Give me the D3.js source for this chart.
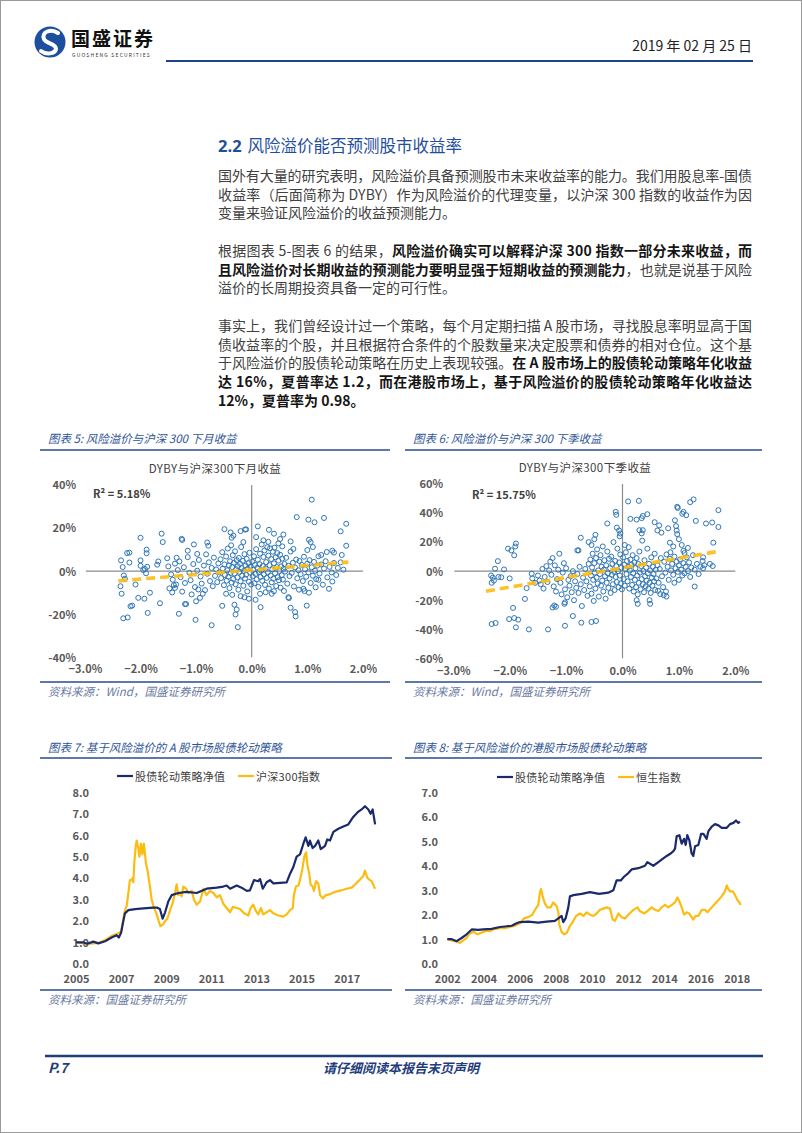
<!DOCTYPE html>
<html><head><meta charset="utf-8">
<script src="https://cdn.jsdelivr.net/npm/d3@7"></script>
<style>
body{margin:0;background:#fff;}
svg{display:block;}
text{font-family:"Noto Sans CJK SC","Noto Sans",sans-serif;}
</style></head><body>
<svg id="page" width="802" height="1133"></svg>
<script>
// ---------- DATA ----------
const reportDate = "2019 年 02 月 25 日";
const sectionTitle = ["2.2", "风险溢价能否预测股市收益率"];
const para1 = [
  [["国外有大量的研究表明，风险溢价具备预测股市未来收益率的能力。我们用股息率-国债",0]],
  [["收益率（后面简称为 DYBY）作为风险溢价的代理变量，以沪深 300 指数的收益作为因",0]],
  [["变量来验证风险溢价的收益预测能力。",0]]
];
const para2 = [
  [["根据图表 5-图表 6 的结果，",0],["风险溢价确实可以解释沪深 300 指数一部分未来收益，而",1]],
  [["且风险溢价对长期收益的预测能力要明显强于短期收益的预测能力",1],["，也就是说基于风险",0]],
  [["溢价的长周期投资具备一定的可行性。",0]]
];
const para3 = [
  [["事实上，我们曾经设计过一个策略，每个月定期扫描 A 股市场，寻找股息率明显高于国",0]],
  [["债收益率的个股，并且根据符合条件的个股数量来决定股票和债券的相对仓位。这个基",0]],
  [["于风险溢价的股债轮动策略在历史上表现较强。",0],["在 A 股市场上的股债轮动策略年化收益",1]],
  [["达 16%，夏普率达 1.2，而在港股市场上，基于风险溢价的股债轮动策略年化收益达",1]],
  [["12%，夏普率为 0.98。",1]]
];
const fig5Title = "图表 5:  风险溢价与沪深 300 下月收益";
const fig6Title = "图表 6:  风险溢价与沪深 300 下季收益";
const fig7Title = "图表 7:  基于风险溢价的 A 股市场股债轮动策略";
const fig8Title = "图表 8:  基于风险溢价的港股市场股债轮动策略";
const sourceWind = "资料来源：Wind，国盛证券研究所";
const sourceGS = "资料来源：国盛证券研究所";
const chart5Name = "DYBY与沪深300下月收益";
const chart6Name = "DYBY与沪深300下季收益";
const r2Month = "R² = 5.18%";
const r2Quarter = "R² = 15.75%";
const scatterXTicks = [-3, -2, -1, 0, 1, 2];
const monthYTicks = [-40, -20, 0, 20, 40];
const quarterYTicks = [-60, -40, -20, 0, 20, 40, 60];
const monthTrend = [[-2.40, -4.5], [1.74, 4.2]];
const quarterTrend = [[-2.42, -13.8], [1.73, 13.8]];

// DYBY (%) vs next-month CSI300 return (%)
const monthPoints = [
[-2.0,15.5],[-1.62,17.4],[-1.6,13.5],[-1.26,15],[-1.25,14.5],[-1.04,12.4],[-0.8,13.3],[-0.78,11.8],[-0.49,19.5],[-0.38,18],[-0.36,15.5],[-0.33,16.5],[-0.2,18.6],[-0.12,19.3],[-2.24,8.4],[-2.2,8.6],[-2.35,5],[-1.89,10],[-1.89,8.3],[-2.0,5],[-2.2,4],[-1.68,4.5],[-1.7,3],[-1.35,6.2],[-1.38,3.5],[-2.32,1.9],[-2.3,-2],[-2.28,-3.5],[-2.36,-7],[-2.34,-10.5],[-2.04,-12.4],[-1.93,-12.8],[-2.18,-16.3],[-2.15,-16],[-2.31,-21.9],[-2.23,-21.5],[-1.87,-19.4],[-1.83,-10],[-1.65,-14.9],[-2.09,-6.2],[-1.9,-1],[-1.92,1],[-1.88,2],[-2.0,2.5],[-1.95,0.5],[-1.43,-9.9],[-1.36,-6.2],[-1.4,-6.5],[-1.31,-19.8],[-1.2,-15.3],[-1.18,-15.3],[-1.01,-22.6],[-0.72,-25.1],[-1.0,-14],[-0.93,-12.4],[-0.88,-10.5],[-0.53,-16.1],[-0.31,-15.6],[-0.27,-17.8],[-0.29,-20.1],[-0.25,-26],[-0.46,-10.5],[-0.13,-12.1],
[1.08,33.2],[0.81,25.1],[1.3,24.7],[1.02,23.9],[1.13,22.7],[1.7,22],[1.6,18.5],[0.11,20.8],[0.31,19.2],[0.4,17.4],[0.57,17],[0.51,14.9],[0.7,13.8],[1.03,14.6],[1.06,13.5],[1.7,11.8],[0.21,14.3],[0.08,15.8],[-0.1,19.4],[1.45,9.5],[1.48,8.6],[1.62,7.5],[1.0,9.8],[1.25,7.5],[0.99,-16],[0.7,-17],[0.78,-19],[0.79,-21],[0.66,-12.1],[0.67,-12.5],[0.36,-10.5],[0.16,-16.7],[0.07,-13.3],[1.39,-8.2],[1.03,-10],[0.93,-8.2],[1.2,-4],
[-1.5,2.2],[-1.45,-1.5],[-1.42,-4],[-1.33,0.5],[-1.3,4.5],[-1.28,-2.8],[-1.22,1.8],[-1.2,-5.5],[-1.15,6.5],[-1.12,-0.8],[-1.1,-4.2],[-1.05,3.3],[-1.02,-7.4],[-0.98,0.2],[-0.95,5.2],[-0.92,-2.5],[-0.9,-5.8],[-0.86,2.6],[-0.84,-8.8],[-0.8,-1.2],[-0.77,4.1],[-0.75,-4.6],[-0.72,1.5],[-0.7,-7],[-0.68,6.3],[-0.66,-2.2],[-0.64,0.8],[-0.62,-5.1],[-0.6,3.6],[-1.38,-7.8],[-1.25,-9.5],[-1.08,-10.8],[-0.96,-8.5],[-0.82,7.8],[-1.15,9.5],[-0.98,8],[-1.52,6],[-1.48,-8],
[-0.58,-0.5],[-0.56,5.5],[-0.55,-3.2],[-0.53,8.8],[-0.52,1.2],[-0.5,-6.5],[-0.49,3.1],[-0.48,-1.8],[-0.46,6.8],[-0.45,-4.4],[-0.44,0.4],[-0.43,10.5],[-0.42,-2.6],[-0.41,2.7],[-0.4,-7.9],[-0.39,4.6],[-0.38,-0.9],[-0.37,12],[-0.36,-5.3],[-0.35,1.9],[-0.34,7.4],[-0.33,-3.6],[-0.32,3.9],[-0.31,-1.1],[-0.3,9.2],[-0.29,-6.1],[-0.28,0.9],[-0.27,5.1],[-0.26,-2.9],[-0.25,2.3],[-0.24,-8.6],[-0.23,6.1],[-0.22,-0.3],[-0.21,3.4],[-0.2,-4.7],[-0.19,11.2],[-0.18,1.4],[-0.17,-2.1],[-0.16,4.8],[-0.15,-6.8],[-0.14,0.1],[-0.13,7.9],[-0.12,-3.4],[-0.11,2.6],[-0.1,-1.6],[-0.09,5.7],[-0.08,-9.4],[-0.07,1.1],[-0.06,3.7],[-0.05,-4.9],[-0.04,8.5],[-0.03,-0.7],[-0.02,2.1],[-0.01,-6.2],[-0.35,-11],[-0.2,-11.6],[-0.05,-12.8],[-0.15,13.5],
[0.01,4.4],[0.02,-2.4],[0.03,0.6],[0.04,6.9],[0.05,-5.6],[0.06,2.9],[0.07,-1.3],[0.08,10.2],[0.09,-3.8],[0.1,1.6],[0.11,5.3],[0.12,-7.3],[0.13,-0.4],[0.14,3.2],[0.15,8.1],[0.16,-2.7],[0.17,0.3],[0.18,12.4],[0.19,-4.5],[0.2,2.4],[0.21,6.6],[0.22,-1.5],[0.23,9.6],[0.24,-6.4],[0.25,1.3],[0.26,4.2],[0.27,-3.1],[0.28,11.1],[0.29,-0.6],[0.3,7.2],[0.31,-8.1],[0.32,2.8],[0.33,10.6],[0.34,-2],[0.35,5.6],[0.36,-5.2],[0.37,0.8],[0.38,9],[0.39,-3.5],[0.4,3.6],[0.41,10.9],[0.42,-1],[0.43,6.4],[0.44,-6.9],[0.45,1.9],[0.46,8.4],[0.47,-2.8],[0.48,4.9],[0.49,-4.2],[0.5,0.1],[0.51,7.6],[0.52,-7.7],[0.53,2.2],[0.54,-1.9],[0.55,5.8],[0.56,-3.9],[0.57,1],[0.58,-9.2],[0.59,3.3],[0.6,-0.2],[0.25,-9.8],[0.4,-9.3],[0.15,-10.5],[0.48,12.9],[0.55,11.5],[0.3,13.6],
[0.62,6.2],[0.64,-5.8],[0.66,2.5],[0.68,-2.3],[0.7,9.1],[0.72,-0.8],[0.74,3.9],[0.76,-7.1],[0.78,1.7],[0.8,5.4],[0.82,-3.3],[0.84,0.4],[0.86,4.7],[0.88,-1.4],[0.9,2.9],[0.92,-4.6],[0.94,6.7],[0.96,0.9],[0.98,-2.6],[1.0,3.5],[1.02,-0.5],[1.04,5.1],[1.06,-5.5],[1.08,1.8],[1.1,-2.1],[1.12,4.3],[1.14,0.2],[1.16,-3.7],[1.18,2.6],[1.2,6.9],[1.22,-1.1],[1.25,3.1],[1.28,-6.3],[1.3,1.2],[1.33,4.6],[1.36,-2.9],[1.4,2],[1.44,-0.6],[1.48,3.8],[1.52,-1.8],[1.55,1.5],[1.6,4.1],[1.65,0.7],[0.85,-8.6],[0.95,-9.2],[1.15,-7.5],[1.45,-4.8],[0.75,10.3],[1.1,11.2],[1.35,8.9]
];

// DYBY (%) vs next-quarter CSI300 return (%)
const quarterPoints = [
[-0.12,40.8],[-0.11,38.8],[-0.27,32.8],[-0.1,30],[-0.06,28],[-2.03,15.5],[-1.97,14.3],[-1.89,19],[-1.9,17],[-1.92,10.9],[-2.21,6.9],[-2.26,1.7],[-2.1,1.2],[-2.33,-3],[-2.3,-4.5],[-2.28,-6.5],[-2.32,-8],[-2.2,-4],[-2.15,-4.2],[-2.0,-5],[-1.94,-25.3],[-1.73,-19.1],[-2.01,-33],[-1.92,-32.3],[-1.85,-33.4],[-2.32,-36.4],[-2.25,-35.7],[-1.89,-38.7],[-1.66,-40.1],[-1.32,-40.1],[-1.02,-37.6],[-0.88,-30.9],[-0.73,-35.5],[-0.55,-35],[-0.47,-34.3],[-1.61,-1.8],[-1.7,-11.7],[-1.21,-23.7],[-1.18,-24.5],[-1.24,-25],[-1.02,-21.5],[-1.03,-22.5],[-0.8,14.3],[-0.78,14.3],[-0.74,23],[-0.6,20],[-0.5,22],[-0.48,25],[-0.55,18],
[0.1,48],[0.29,48.4],[1.26,49.4],[1.2,47.5],[0.97,44.3],[0.98,43.5],[1.7,42],[1.08,40.8],[1.13,38.5],[1.06,39.5],[0.44,39.2],[0.36,38],[0.34,36.5],[0.14,36],[0.25,35.5],[1.3,34.6],[1.48,32.8],[1.59,33.5],[1.7,30.4],[0.57,33.7],[0.65,31.5],[0.62,28],[0.69,26.5],[0.81,29.5],[0.93,35],[0.95,31],[0.96,28],[0.97,25.5],[1.0,22],[-0.04,25.9],[-0.05,24],[0.04,18],[0.3,28.2],[0.36,28.2],[0.34,26],[1.61,19.6],[0.84,19.6],[0.9,17],[1.05,18],[1.16,16],[1.08,14],[1.28,-10.6],[0.77,-14],[0.78,-17.5],[0.73,-16.5],[0.67,-15.8],[0.63,-13.5],[0.49,-22.5],[0.48,-20],[0.27,-22.5],[0.25,-20],[1.43,2],[1.45,4],[1.42,7],[1.43,9.5],[1.55,5],[1.6,3.5],
[-1.5,-3],[-1.47,-6.5],[-1.45,-9],[-1.42,1.5],[-1.4,-12],[-1.38,-4],[-1.35,3.5],[-1.33,-7.5],[-1.3,0.5],[-1.28,6.5],[-1.26,-2.5],[-1.24,9],[-1.22,-10.5],[-1.2,4],[-1.18,-14],[-1.16,-5.5],[-1.14,1],[-1.12,12],[-1.1,-8],[-1.08,-16],[-1.06,-1],[-1.04,5.5],[-1.02,-12.5],[-1.0,2],[-0.98,-18],[-0.96,-6],[-0.94,-10],[-0.92,-3.5],[-0.9,-14.5],[-0.88,0],[-0.86,-20],[-0.84,-7],[-0.82,-11.5],[-0.8,-2],[-0.78,-15],[-0.76,3],[-0.74,-9],[-0.72,-24],[-0.7,-4.5],[-0.68,-13],[-0.66,1.5],[-0.64,-7],[-0.62,-17],[-0.6,5],[-1.55,-8],[-1.6,-5],
[-0.58,-10.5],[-0.57,8],[-0.56,-3],[-0.55,-15.5],[-0.54,2.5],[-0.53,12],[-0.52,-6],[-0.51,-20.5],[-0.5,5.5],[-0.49,-1],[-0.48,-12],[-0.47,9],[-0.46,-4.5],[-0.45,15],[-0.44,-8.5],[-0.43,0.5],[-0.42,-17.5],[-0.41,6.5],[-0.4,-2],[-0.39,11],[-0.38,-10],[-0.37,3],[-0.36,-6.5],[-0.35,17],[-0.34,-14],[-0.33,1],[-0.32,7.5],[-0.31,-3.5],[-0.3,-19],[-0.29,4],[-0.28,-8],[-0.27,13.5],[-0.26,-1.5],[-0.25,-11.5],[-0.24,8.5],[-0.23,-5],[-0.22,2],[-0.21,-15],[-0.2,10],[-0.19,-2.5],[-0.18,5],[-0.17,-9],[-0.16,20],[-0.15,-0.5],[-0.14,-13],[-0.13,7],[-0.12,-4],[-0.11,3.5],[-0.1,-7.5],[-0.09,15.5],[-0.08,0],[-0.07,-11],[-0.06,6],[-0.05,-3],[-0.04,11.5],[-0.03,-8.5],[-0.02,2.5],[-0.01,-12.5],
[0.01,9.5],[0.02,-5.5],[0.03,4.5],[0.04,-10],[0.05,1.5],[0.06,13],[0.07,-2],[0.08,7],[0.09,-7],[0.1,3],[0.11,16.5],[0.12,-12],[0.13,0.5],[0.14,8],[0.15,-4],[0.16,4.5],[0.17,-9.5],[0.18,11],[0.19,-1.5],[0.2,-14],[0.21,6],[0.22,-6],[0.23,2],[0.24,-11],[0.25,9],[0.26,-3],[0.27,-16],[0.28,5],[0.29,-8],[0.3,13.5],[0.31,-1],[0.32,-12.5],[0.33,3.5],[0.34,-5.5],[0.35,21],[0.36,-9],[0.37,0],[0.38,-14.5],[0.39,7.5],[0.4,-3.5],[0.41,-10.5],[0.42,2.5],[0.43,-6.5],[0.44,15.5],[0.45,-1.5],[0.46,-12],[0.47,5],[0.48,-8],[0.49,0.5],[0.5,-15],[0.51,9.5],[0.52,-4.5],[0.53,-10],[0.54,3],[0.55,-2],[0.56,-7],[0.57,12],[0.58,-13],[0.59,1],[0.6,-5],
[0.62,4],[0.64,-8],[0.66,1.5],[0.68,9],[0.7,-3.5],[0.72,-11],[0.74,6.5],[0.76,-1],[0.78,11.5],[0.8,3],[0.82,-6],[0.84,8.5],[0.86,0.5],[0.88,5],[0.9,-2.5],[0.92,10],[0.94,2],[0.96,6.5],[0.98,-0.5],[1.0,4],[1.02,8],[1.04,1],[1.06,-3],[1.08,5.5],[1.1,-1.5],[1.12,3],[1.14,9.5],[1.16,0],[1.18,6],[1.2,-4],[1.22,2.5],[1.25,11],[1.28,1],[1.32,5],[1.35,-2],[1.38,3],[1.0,-6],[0.92,-8],[1.1,12.5],[0.85,13]
];

// Fig 7: A-share strategy vs CSI300 (net value)
const aYearTicks = [2005, 2007, 2009, 2011, 2013, 2015, 2017];
const aValueTicks = [0, 1, 2, 3, 4, 5, 6, 7, 8];
const aLegend = ["股债轮动策略净值", "沪深300指数"];
const aStrategy = [[2005.0,1.0],[2005.3,1.0],[2005.5,0.93],[2005.77,1.03],[2005.99,0.95],[2006.29,1.05],[2006.58,1.22],[2006.8,1.33],[2006.9,1.22],[2007.0,1.45],[2007.1,2.0],[2007.17,2.35],[2007.32,2.5],[2007.62,2.55],[2007.99,2.58],[2008.43,2.62],[2008.58,2.62],[2008.72,2.55],[2008.84,2.1],[2008.95,2.4],[2009.09,2.9],[2009.24,3.2],[2009.54,3.3],[2009.91,3.35],[2010.35,3.3],[2010.79,3.5],[2011.24,3.55],[2011.53,3.6],[2011.68,3.65],[2011.83,3.5],[2012.12,3.65],[2012.34,3.55],[2012.57,3.4],[2012.71,3.42],[2012.89,3.9],[2013.08,3.85],[2013.16,3.95],[2013.28,3.5],[2013.45,3.8],[2013.6,3.9],[2013.75,3.75],[2014.34,3.8],[2014.49,4.2],[2014.63,4.5],[2014.78,5.0],[2014.93,5.1],[2015.08,5.6],[2015.18,5.9],[2015.3,5.5],[2015.37,5.75],[2015.49,5.4],[2015.6,5.5],[2015.74,5.75],[2015.85,5.35],[2016.04,5.5],[2016.14,5.8],[2016.26,5.75],[2016.41,6.15],[2016.63,6.3],[2016.85,6.4],[2017.07,6.5],[2017.29,6.85],[2017.52,7.1],[2017.66,7.2],[2017.81,7.35],[2017.96,7.2],[2018.06,7.0],[2018.15,7.2],[2018.26,6.5]];
const aIndex = [[2005.0,1.0],[2005.5,0.92],[2005.77,0.95],[2005.99,0.97],[2006.29,1.1],[2006.58,1.3],[2006.8,1.38],[2007.0,1.5],[2007.1,2.1],[2007.17,2.5],[2007.25,2.7],[2007.32,3.3],[2007.39,3.9],[2007.47,3.9],[2007.51,4.0],[2007.54,3.8],[2007.59,4.8],[2007.65,5.5],[2007.69,5.75],[2007.76,5.4],[2007.81,5.0],[2007.88,5.6],[2007.94,5.1],[2008.01,5.6],[2008.1,4.7],[2008.18,4.3],[2008.28,3.6],[2008.35,3.0],[2008.46,2.6],[2008.58,2.3],[2008.69,1.9],[2008.75,1.75],[2008.87,1.85],[2008.96,2.0],[2009.05,2.1],[2009.17,2.5],[2009.29,2.85],[2009.39,3.3],[2009.46,3.7],[2009.54,3.2],[2009.61,3.3],[2009.68,3.15],[2009.76,3.6],[2009.88,3.5],[2009.98,3.3],[2010.13,3.4],[2010.23,3.0],[2010.35,2.75],[2010.5,2.9],[2010.65,3.5],[2010.79,3.2],[2010.94,3.4],[2011.09,3.3],[2011.24,3.1],[2011.38,3.2],[2011.53,2.8],[2011.68,2.6],[2011.83,2.4],[2011.95,2.65],[2012.12,2.6],[2012.27,2.55],[2012.45,2.35],[2012.64,2.25],[2012.74,2.6],[2012.86,2.75],[2012.98,2.45],[2013.08,2.3],[2013.2,2.6],[2013.3,2.3],[2013.45,2.4],[2013.6,2.5],[2013.75,2.35],[2013.97,2.25],[2014.19,2.2],[2014.34,2.3],[2014.49,2.5],[2014.61,2.6],[2014.66,3.2],[2014.75,3.6],[2014.86,3.65],[2014.93,3.9],[2015.03,4.4],[2015.12,5.0],[2015.2,5.2],[2015.26,4.6],[2015.34,4.2],[2015.4,3.7],[2015.49,3.6],[2015.55,3.4],[2015.64,3.85],[2015.74,3.75],[2015.82,3.2],[2015.94,3.05],[2016.08,3.2],[2016.26,3.25],[2016.48,3.35],[2016.67,3.4],[2016.85,3.45],[2017.0,3.5],[2017.22,3.55],[2017.37,3.7],[2017.56,3.9],[2017.74,4.1],[2017.81,4.35],[2017.92,4.0],[2018.03,3.9],[2018.11,3.85],[2018.21,3.6],[2018.26,3.5]];

// Fig 8: HK strategy vs Hang Seng (net value)
const hkYearTicks = [2002, 2004, 2006, 2008, 2010, 2012, 2014, 2016, 2018];
const hkValueTicks = [0, 1, 2, 3, 4, 5, 6, 7];
const hkLegend = ["股债轮动策略净值", "恒生指数"];
const hkStrategy = [[2002.0,1.0],[2002.25,1.0],[2002.52,0.92],[2002.79,1.05],[2003.07,1.2],[2003.35,1.4],[2003.71,1.38],[2003.99,1.4],[2004.45,1.42],[2004.91,1.5],[2005.19,1.52],[2005.56,1.55],[2005.83,1.65],[2006.02,1.7],[2006.48,1.72],[2007.03,1.68],[2007.49,1.72],[2007.95,1.75],[2008.14,1.85],[2008.32,1.95],[2008.41,1.7],[2008.54,1.85],[2008.69,2.3],[2008.78,2.75],[2008.97,2.8],[2009.43,2.85],[2009.89,2.92],[2010.39,2.85],[2010.9,2.9],[2011.18,3.0],[2011.36,3.4],[2011.59,3.4],[2011.77,3.55],[2012.01,3.7],[2012.19,3.85],[2012.56,3.9],[2012.93,4.0],[2013.06,4.15],[2013.39,4.0],[2013.67,4.15],[2013.85,4.25],[2014.13,4.4],[2014.35,4.5],[2014.5,4.6],[2014.59,4.7],[2014.68,5.2],[2014.83,5.25],[2014.96,4.9],[2015.09,5.1],[2015.18,4.85],[2015.27,5.25],[2015.38,5.05],[2015.51,4.5],[2015.6,4.4],[2015.7,4.8],[2015.88,4.85],[2016.03,5.3],[2016.16,5.3],[2016.34,5.1],[2016.43,5.4],[2016.62,5.6],[2016.8,5.7],[2016.99,5.65],[2017.17,5.55],[2017.45,5.55],[2017.63,5.7],[2017.82,5.75],[2017.96,5.85],[2018.09,5.75],[2018.18,5.8]];
const hkIndex = [[2002.0,1.0],[2002.25,0.95],[2002.52,0.9],[2002.7,0.85],[2002.88,0.95],[2003.07,1.05],[2003.25,1.25],[2003.47,1.3],[2003.66,1.2],[2003.99,1.3],[2004.18,1.35],[2004.36,1.32],[2004.54,1.4],[2004.91,1.45],[2005.19,1.45],[2005.47,1.5],[2005.74,1.55],[2006.02,1.65],[2006.24,1.85],[2006.48,1.9],[2006.7,2.0],[2006.85,2.2],[2007.03,2.4],[2007.12,2.9],[2007.18,3.05],[2007.27,2.75],[2007.4,2.45],[2007.53,2.3],[2007.71,2.3],[2007.86,2.5],[2008.05,2.35],[2008.14,2.1],[2008.19,1.6],[2008.32,1.3],[2008.45,1.2],[2008.6,1.25],[2008.75,1.5],[2008.93,1.7],[2009.12,1.95],[2009.34,2.05],[2009.52,1.95],[2009.71,2.1],[2009.89,2.0],[2010.07,1.95],[2010.26,2.05],[2010.44,2.2],[2010.63,2.25],[2010.81,2.3],[2011.0,2.25],[2011.14,1.8],[2011.27,1.75],[2011.46,2.05],[2011.64,1.9],[2011.83,1.85],[2012.01,2.0],[2012.29,2.2],[2012.51,2.3],[2012.65,2.15],[2012.88,2.05],[2013.06,2.15],[2013.3,2.3],[2013.48,2.2],[2013.67,2.15],[2013.85,2.3],[2014.04,2.4],[2014.22,2.3],[2014.41,2.4],[2014.59,2.5],[2014.72,2.7],[2014.83,2.55],[2014.96,2.3],[2015.09,2.0],[2015.23,2.1],[2015.38,2.05],[2015.51,1.9],[2015.6,1.8],[2015.73,1.95],[2015.88,1.95],[2016.07,2.2],[2016.25,2.2],[2016.38,2.1],[2016.56,2.25],[2016.8,2.45],[2016.99,2.6],[2017.17,2.75],[2017.35,2.95],[2017.45,3.2],[2017.54,3.05],[2017.63,2.95],[2017.78,2.95],[2017.91,2.8],[2018.04,2.6],[2018.15,2.5],[2018.22,2.4]];

// ---------- STYLE ----------
const BLUE = "#1f4e9c", NAVY = "#1b2a6b", GOLD = "#fbbd12", DOT = "#2e75b6", RULE = "#2a4b8d";
const svg = d3.select("#page");
svg.append("rect").attr("x",0.5).attr("y",0.5).attr("width",801).attr("height",1132).attr("fill","#fff").attr("stroke","#9a9a9a");

// ---------- HEADER ----------
const hdr = svg.append("g");
hdr.append("circle").attr("cx",50).attr("cy",42).attr("r",15.5).attr("fill","#1d4f9f");
hdr.append("path").attr("d","M58,33 C51,28 41,32 44,39 C46,44 56,43 56,49 C55,54 46,55 41,51")
  .attr("fill","none").attr("stroke","#fff").attr("stroke-width",4).attr("stroke-linecap","round");
hdr.append("text").attr("x",71).attr("y",46).attr("font-size",19).attr("font-weight",700).attr("letter-spacing",2).attr("fill","#111").text("国盛证券");
hdr.append("text").attr("x",72).attr("y",57).attr("font-size",5).attr("letter-spacing",1.2).attr("fill","#333").attr("font-family","DejaVu Sans").text("GUOSHENG SECURITIES");
hdr.append("text").attr("x",752).attr("y",51).attr("text-anchor","end").attr("font-size",14).attr("fill","#222").text(reportDate);
hdr.append("line").attr("x1",166).attr("x2",753).attr("y1",61).attr("y2",61).attr("stroke","#1f4589").attr("stroke-width",2);

// ---------- BODY TEXT ----------
const TX = 218, TW = 534;
const body = svg.append("g");
const h = body.append("text").attr("x",TX).attr("y",145).attr("dominant-baseline","central").attr("fill",BLUE).attr("font-size",16.5);
h.append("tspan").attr("font-weight",700).attr("font-family","Open Sans, Noto Sans CJK SC").text(sectionTitle[0]);
h.append("tspan").attr("dx",6).text(sectionTitle[1]);

function textLine(y, segs, justify) {
  const t = body.append("text").attr("x",TX).attr("y",y).attr("dominant-baseline","central").attr("font-size",14);
  segs.forEach(([s,b]) => t.append("tspan").text(s).attr("font-weight", b?700:400).attr("fill", b?"#151515":"#404040"));
  if (justify) {
    const len = t.node().getComputedTextLength();
    const n = segs.map(s=>s[0]).join("").length;
    t.attr("letter-spacing", (TW - len)/(n-1));
  }
}
const LH = 18.7;
function para(lines, y0) {
  lines.forEach((segs,i) => textLine(y0 + i*LH, segs, i < lines.length-1));
}
para(para1, 175);
para(para2, 250);
para(para3, 325);

// ---------- FIGURE FRAMES ----------
function frame(x0, x1, title, yTitle, yRule, yRule2, src) {
  svg.append("text").attr("x",x0+8).attr("y",yTitle).attr("dominant-baseline","central").attr("font-size",11.5)
    .attr("font-style","italic").attr("fill","#2f5597").text(title);
  svg.append("line").attr("x1",x0).attr("x2",x1).attr("y1",yRule).attr("y2",yRule).attr("stroke",RULE).attr("stroke-width",1.6);
  svg.append("line").attr("x1",x0).attr("x2",x1).attr("y1",yRule2).attr("y2",yRule2).attr("stroke",RULE).attr("stroke-width",1.6);
  svg.append("text").attr("x",x0+8).attr("y",yRule2+9).attr("dominant-baseline","central").attr("font-size",11.5)
    .attr("font-style","italic").attr("fill","#6b7ba3").text(src);
}
frame(40, 390, fig5Title, 438, 450, 682, sourceWind);
frame(405, 762, fig6Title, 438, 450, 682, sourceWind);
frame(40, 392, fig7Title, 747, 758, 990, sourceGS);
frame(405, 762, fig8Title, 747, 758, 990, sourceGS);

// ---------- SCATTER CHARTS ----------
function scatter(o) {
  const g = svg.append("g");
  const x = d3.scaleLinear().domain([-3,2]).range(o.xr);
  const y = d3.scaleLinear().domain([o.yTicks[0], o.yTicks[o.yTicks.length-1]]).range(o.yr);
  g.append("text").attr("x",o.titleX).attr("y",o.titleY).attr("text-anchor","middle").attr("dominant-baseline","central")
    .attr("font-size",11.5).attr("fill","#404040").attr("font-family","Liberation Serif, Noto Sans CJK SC").attr("letter-spacing",0.4).text(o.name);
  g.append("line").attr("x1",x(-3)+1).attr("x2",x(2)).attr("y1",y(0)).attr("y2",y(0)).attr("stroke","#8c8c8c").attr("stroke-width",1.2);
  g.append("line").attr("x1",x(0)).attr("x2",x(0)).attr("y1",o.yr[1]).attr("y2",o.yr[0]).attr("stroke","#8c8c8c").attr("stroke-width",1.2);
  const ya = g.append("g").attr("transform",`translate(${o.yLabelX},0)`)
    .call(d3.axisLeft(y).tickValues(o.yTicks).tickSize(0).tickPadding(0).tickFormat(d => d + "%"));
  const xa = g.append("g").attr("transform",`translate(0,${o.xLabelY})`)
    .call(d3.axisBottom(x).tickValues(scatterXTicks).tickSize(0).tickPadding(0).tickFormat(d => d3.format(".1f")(d) + "%"));
  [ya, xa].forEach(a => {
    a.select(".domain").remove();
    a.selectAll("text").attr("font-size",11).attr("font-weight",700).attr("fill","#595959").attr("font-family","Open Sans, sans-serif");
  });
  ya.selectAll("text").attr("dy","0.35em");
  xa.selectAll("text").attr("dy","0.35em");
  g.append("g").selectAll("circle").data(o.points).join("circle")
    .attr("cx", d => x(d[0])).attr("cy", d => y(d[1])).attr("r",2.5)
    .attr("fill","none").attr("stroke",DOT).attr("stroke-width",1);
  g.append("line").attr("x1",x(o.trend[0][0])).attr("y1",y(o.trend[0][1])).attr("x2",x(o.trend[1][0])).attr("y2",y(o.trend[1][1]))
    .attr("stroke",GOLD).attr("stroke-width",3.6).attr("stroke-dasharray","9,5").attr("opacity",0.9);
  g.append("text").attr("x",o.r2X).attr("y",o.r2Y).attr("dominant-baseline","central").attr("font-size",11).attr("font-weight",700)
    .attr("fill","#404040").attr("font-family","Open Sans, sans-serif").text(o.r2);
}
scatter({xr:[84.9,362.9], yr:[657.3,485], yTicks:monthYTicks, points:monthPoints, trend:monthTrend,
  yLabelX:76, xLabelY:669, name:chart5Name, titleX:215, titleY:468, r2:r2Month, r2X:93, r2Y:493});
scatter({xr:[453.3,735.3], yr:[658.3,484], yTicks:quarterYTicks, points:quarterPoints, trend:quarterTrend,
  yLabelX:443, xLabelY:671, name:chart6Name, titleX:585, titleY:467, r2:r2Quarter, r2X:472, r2Y:494});

// ---------- LINE CHARTS ----------
function lineChart(o) {
  const g = svg.append("g");
  const x = d3.scaleLinear().domain([o.xTicks[0], o.xTicks[o.xTicks.length-1]]).range(o.xr);
  const y = d3.scaleLinear().domain([0, o.yTicks[o.yTicks.length-1]]).range(o.yr);
  const ya = g.append("g").attr("transform",`translate(${o.yLabelX},0)`)
    .call(d3.axisLeft(y).tickValues(o.yTicks).tickSize(0).tickPadding(0).tickFormat(d3.format(".1f")));
  const xa = g.append("g").attr("transform",`translate(0,${o.xLabelY})`)
    .call(d3.axisBottom(x).tickValues(o.xTicks).tickSize(0).tickPadding(0).tickFormat(d3.format("d")));
  [ya, xa].forEach(a => {
    a.select(".domain").remove();
    a.selectAll("text").attr("font-size",11).attr("font-weight",700).attr("fill","#595959").attr("font-family","Open Sans, sans-serif").attr("dy","0.35em");
  });
  const line = d3.line().x(d => x(d[0])).y(d => y(d[1]));
  g.append("path").datum(o.s2).attr("d",line).attr("fill","none").attr("stroke",GOLD).attr("stroke-width",2.2).attr("stroke-linejoin","round");
  g.append("path").datum(o.s1).attr("d",line).attr("fill","none").attr("stroke",NAVY).attr("stroke-width",2.2).attr("stroke-linejoin","round");
  const L = g.append("g");
  [[o.leg1X, NAVY, o.legend[0]], [o.leg2X, GOLD, o.legend[1]]].forEach(([lx, c, t]) => {
    L.append("line").attr("x1",lx).attr("x2",lx+16).attr("y1",o.legY).attr("y2",o.legY).attr("stroke",c).attr("stroke-width",2.2);
    L.append("text").attr("x",lx+18).attr("y",o.legY).attr("dominant-baseline","central").attr("font-size",11)
      .attr("fill","#404040").attr("font-family","Liberation Serif, Noto Sans CJK SC").attr("letter-spacing",0.3).text(t);
  });
}
lineChart({xTicks:aYearTicks, yTicks:aValueTicks, xr:[76,346.7], yr:[963.7,792.3], yLabelX:89, xLabelY:979,
  s1:aStrategy, s2:aIndex, legend:aLegend, leg1X:117, leg2X:238, legY:776});
lineChart({xTicks:hkYearTicks, yTicks:hkValueTicks, xr:[447.3,736.7], yr:[963.7,792.3], yLabelX:438, xLabelY:979,
  s1:hkStrategy, s2:hkIndex, legend:hkLegend, leg1X:497, leg2X:618, legY:777});

// ---------- FOOTER ----------
svg.append("line").attr("x1",45).attr("x2",763).attr("y1",1056).attr("y2",1056).attr("stroke","#1f3d7a").attr("stroke-width",2.5);
svg.append("text").attr("x",48).attr("y",1067).attr("dominant-baseline","central").attr("font-size",14).attr("font-weight",700)
  .attr("font-style","italic").attr("fill","#1f3d7a").attr("font-family","Open Sans, sans-serif").text("P.7");
svg.append("text").attr("x",401).attr("y",1067).attr("text-anchor","middle").attr("dominant-baseline","central").attr("font-size",13)
  .attr("font-weight",700).attr("font-style","italic").attr("fill","#1f3d7a").text("请仔细阅读本报告末页声明");
</script>
</body></html>
